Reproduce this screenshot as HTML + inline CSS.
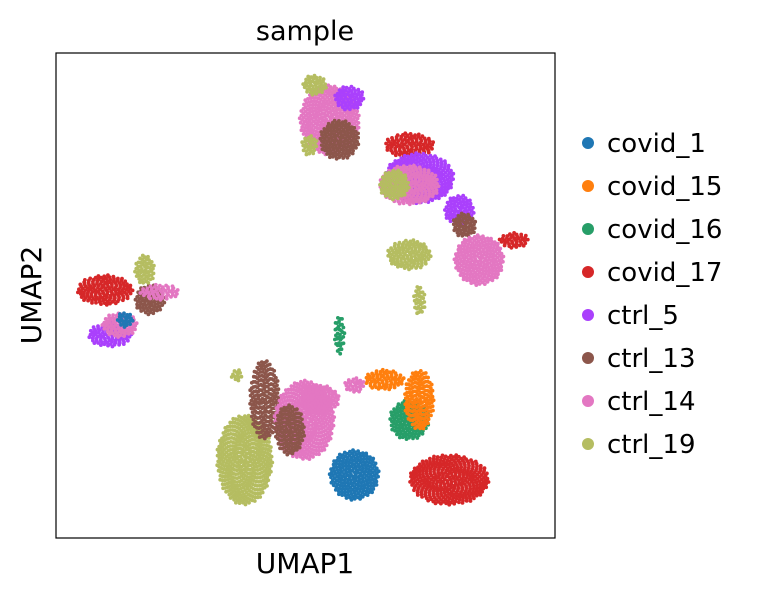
<!DOCTYPE html>
<html><head><meta charset="utf-8"><style>
body{margin:0;background:#fff;}
svg text{font-family:"DejaVu Sans","Liberation Sans",sans-serif;fill:#000;}
</style></head><body>
<svg id="chart" width="761" height="595" viewBox="0 0 761 595" xmlns="http://www.w3.org/2000/svg">
<text x="305" y="40" font-size="27" text-anchor="middle">sample</text>
<g id="points"></g>
<rect x="56" y="53" width="499" height="485" fill="none" stroke="#000" stroke-width="1.2"/>
<text x="305" y="573" font-size="28" text-anchor="middle">UMAP1</text>
<text x="41" y="295" font-size="28" text-anchor="middle" transform="rotate(-90 41 295)">UMAP2</text>
<g id="legend"></g>
</svg>
<script>
// sample categories and colors
const samples = ["covid_1","covid_15","covid_16","covid_17","ctrl_5","ctrl_13","ctrl_14","ctrl_19"];
const colors = ["#1f77b4","#ff7f0e","#279e68","#d62728","#aa40fc","#8c564b","#e377c2","#b5bd61"];
// cluster blobs (UMAP units 0-100): sample index, center x, center y, spread x, spread y
const blobSample = [3,4,6,5,7,6,0, 6,5,7,7,4, 3,4,6,7,4,5,6,3,7, 7,5,6,6,5,0,2,1,1,3,2,6,7,7];
const blobX = [9.8,10.8,12.8,18.8,17.8,20.8,13.8, 54.8,56.8,51.8,50.8,58.8, 70.8,72.8,70.8,67.8,80.8,81.8,84.8,91.8,70.8, 37.8,41.8,49.8,52.8,46.8,59.8,70.8,72.8,65.8,78.8,56.8,59.8,36.2,72.8];
const blobY = [51.1,41.9,43.9,49.1,55.3,50.7,45.0, 86.2,82.1,93.4,81.0,90.7, 81.0,74.2,72.8,72.8,67.6,64.5,57.3,61.4,58.4, 16.1,28.5,24.3,28.5,22.3,13.0,24.3,28.5,32.6,12.0,41.9,31.5,33.6,49.0];
const blobSX = [5.6,4.4,3.6,3.0,2.0,4.0,1.6, 6.0,4.0,2.4,1.6,3.0, 5.0,7.0,6.0,3.0,3.0,2.4,5.0,3.0,4.4, 5.6,3.0,6.0,4.0,3.0,5.0,4.0,3.0,4.0,8.0,1.0,2.0,1.2,1.2];
const blobSY = [3.1,2.5,2.5,3.1,3.1,1.6,1.6, 7.2,4.1,2.1,2.1,2.5, 2.5,5.2,4.1,3.1,3.1,2.5,5.2,1.6,3.1, 9.3,8.2,8.2,3.1,5.2,5.2,4.1,6.2,2.1,5.2,4.1,1.6,1.2,3.0];

const X0=56,X1=555,Y0=538,Y1=53;
const xScale=v=>X0+(X1-X0)*v/100;
const yScale=v=>Y0-(Y0-Y1)*v/100;
const NS="http://www.w3.org/2000/svg";
const g=document.getElementById('points');
for(let b=0;b<blobSample.length;b++){
  const cx=xScale(blobX[b]),cy=yScale(blobY[b]);
  const rx=xScale(blobX[b]+blobSX[b])-cx, ry=cy-yScale(blobY[b]+blobSY[b]);
  const n=Math.max(6,Math.round(Math.PI*rx*ry/9));
  const grp=document.createElementNS(NS,'g');
  
  
  grp.setAttribute('fill',colors[blobSample[b]]);
  for(let i=0;i<n;i++){
    const r=Math.sqrt((i+0.5)/n), t=i*2.39996;
    const c=document.createElementNS(NS,'circle');
    c.setAttribute('cx',(cx+rx*r*Math.cos(t)).toFixed(1));
    c.setAttribute('cy',(cy+ry*r*Math.sin(t)).toFixed(1));
    c.setAttribute('r','1.9');
    grp.appendChild(c);
  }
  g.appendChild(grp);
}
const lg=document.getElementById('legend');
samples.forEach((s,i)=>{
  const y=143+i*43;
  const e=document.createElementNS(NS,'g');
  
  
  const c=document.createElementNS(NS,'circle');
  c.setAttribute('cx',588);c.setAttribute('cy',y);c.setAttribute('r',6);c.setAttribute('fill',colors[i]);
  const t=document.createElementNS(NS,'text');
  t.setAttribute('x',607);t.setAttribute('y',y+9);t.setAttribute('font-size','26');
  t.textContent=s;
  e.appendChild(c);e.appendChild(t);lg.appendChild(e);
});
</script>
</body></html>
